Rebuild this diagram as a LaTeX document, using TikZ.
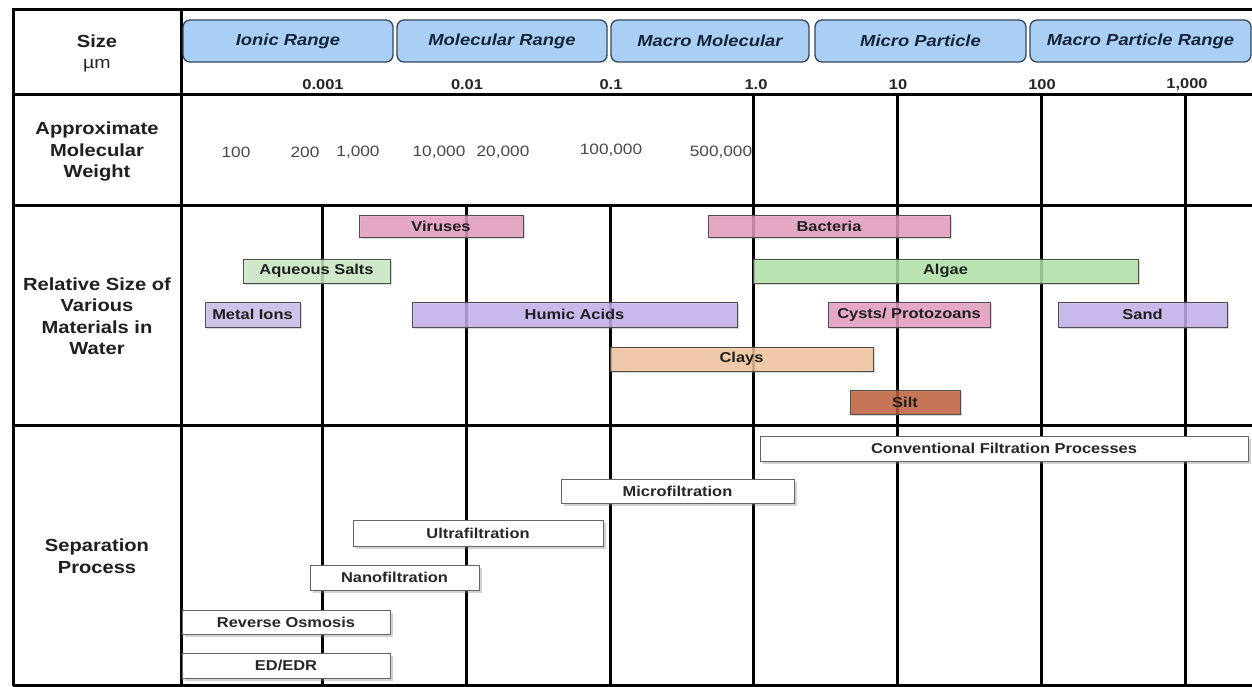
\documentclass[tikz,border=0pt]{standalone}
\usepackage{fontspec}
\setmainfont[FakeStretch=1.15]{Liberation Sans}
\usetikzlibrary{shadows}

\definecolor{rangefill}{HTML}{A9CFF4}
\definecolor{rangeedge}{HTML}{34455C}
\definecolor{rangetext}{HTML}{16243A}
\definecolor{pinkbar}{HTML}{E79CC0}
\definecolor{greenlt}{HTML}{CDEDC6}
\definecolor{greenbar}{HTML}{B3E6A9}
\definecolor{lilac}{HTML}{C6B0F0}
\definecolor{lilaclt}{HTML}{CDBDEE}
\definecolor{claybar}{HTML}{F6C69C}
\definecolor{siltbar}{HTML}{C25E37}

\begin{document}
\begin{tikzpicture}[x=1pt,y=-1pt,
  rule/.style={line width=3pt,black},
  head/.style={font=\bfseries\fontsize{17.5}{21.5}\selectfont,align=center,text=black!88},
  rangebox/.style={draw=rangeedge,line width=1.3pt,fill=rangefill,rounded corners=7pt,
    font=\bfseries\itshape\fontsize{16}{19}\selectfont,text=rangetext,inner sep=0pt,
    minimum height=42pt},
  tick/.style={font=\bfseries\fontsize{14.3}{17}\selectfont,text=black!85},
  mw/.style={font=\fontsize{15}{18}\selectfont,text=black!72},
  bar/.style={draw=black!70,line width=0.9pt,fill opacity=0.8,text opacity=1,
    font=\bfseries\fontsize{14.3}{17}\selectfont,text=black!88,inner sep=0pt,
    drop shadow={shadow xshift=2pt,shadow yshift=-2pt,opacity=0.3}},
  proc/.style={draw=black!60,line width=1pt,fill=white,
    font=\bfseries\fontsize{14.3}{17}\selectfont,text=black!85,inner sep=0pt,
    drop shadow={shadow xshift=2.5pt,shadow yshift=-2.5pt,opacity=0.35}}]

\useasboundingbox (0,0) rectangle (1252,687);
\fill[white] (0,0) rectangle (1252,687);

% outer frame, column divider and row rules
\draw[rule] (12,10) -- (1252,10);
\draw[rule] (13,10) -- (13,686);
\draw[rule] (181,10) -- (181,686);
\draw[rule] (13,95) -- (1252,95);
\draw[rule] (13,205) -- (1252,205);
\draw[rule] (13,425) -- (1252,425);
\draw[rule] (13,685) -- (1252,685);

% decade lines of the size scale
\foreach \gx in {753,897,1041,1185} \draw[rule] (\gx,95) -- (\gx,685);
\foreach \gx in {322,466,610} \draw[rule] (\gx,205) -- (\gx,685);

% row headings
\node[head] (hsize) at (97,41) {Size};
\node[font=\fontsize{17}{20}\selectfont,text=black!85] (hunit) at (97,66) {µm};
\node[head] (hmw) at (97,152) {Approximate\\Molecular\\Weight};
\node[head] (hrel) at (97,316) {Relative Size of\\Various\\Materials in\\Water};
\node[head] (hsep) at (97,556) {Separation\\Process};

% size ranges
\node[rangebox,minimum width=210pt] (ionic) at (288,41) {Ionic Range};
\node[rangebox,minimum width=210pt] (molec) at (502,41) {Molecular Range};
\node[rangebox,minimum width=198pt] (macmol) at (710,41) {Macro Molecular};
\node[rangebox,minimum width=211pt] (micpar) at (920.5,41) {Micro Particle};
\node[rangebox,minimum width=221pt] (macpar) at (1140.5,41) {Macro Particle Range};

% size scale in micrometres
\node[tick] (t1) at (323,85) {0.001};
\node[tick] (t2) at (467,85) {0.01};
\node[tick] (t3) at (611,85) {0.1};
\node[tick] (t4) at (756,85) {1.0};
\node[tick] (t5) at (898,85) {10};
\node[tick] (t6) at (1042,85) {100};
\node[tick] (t7) at (1187,85) {1,000};

% approximate molecular weights
\node[mw] (w1) at (236,152) {100};
\node[mw] (w2) at (305,152) {200};
\node[mw] (w3) at (358,152) {1,000};
\node[mw] (w4) at (439,152) {10,000};
\node[mw] (w5) at (503,152) {20,000};
\node[mw] (w6) at (611,150) {100,000};
\node[mw] (w7) at (721,152) {500,000};

% materials found in water
\node[bar,fill=pinkbar,minimum width=164pt,minimum height=22pt] (virus) at (441,226) {Viruses};
\node[bar,fill=pinkbar,minimum width=242pt,minimum height=22pt] (bact) at (829,226) {Bacteria};
\node[bar,fill=greenlt,minimum width=147pt,minimum height=24pt] (salts) at (316.5,271) {Aqueous Salts};
\node[bar,fill=greenbar,minimum width=385pt,minimum height=24pt] (algae) at (945.5,271) {Algae};
\node[bar,fill=lilaclt,minimum width=95pt,minimum height=25pt] (metal) at (252.5,314.5) {Metal Ions};
\node[bar,fill=lilac,minimum width=325pt,minimum height=25pt] (humic) at (574.5,314.5) {Humic Acids};
\node[bar,fill=pinkbar,minimum width=162pt,minimum height=25pt] (cysts) at (909,314.5) {Cysts/ Protozoans};
\node[bar,fill=lilac,minimum width=169pt,minimum height=25pt] (sand) at (1142.5,314.5) {Sand};
\node[bar,fill=claybar,minimum width=263pt,minimum height=24pt] (clays) at (741.5,359) {Clays};
\node[bar,fill=siltbar,minimum width=110pt,minimum height=24pt] (silt) at (905,402) {Silt};

% separation processes
\node[proc,minimum width=488pt,minimum height=25pt] (conv) at (1004,448.5) {Conventional Filtration Processes};
\node[proc,minimum width=233pt,minimum height=24pt] (mf) at (677.5,491) {Microfiltration};
\node[proc,minimum width=250pt,minimum height=26pt] (uf) at (478,533) {Ultrafiltration};
\node[proc,minimum width=169pt,minimum height=25pt] (nf) at (394.5,577.5) {Nanofiltration};
\node[proc,minimum width=208pt,minimum height=24pt] (ro) at (286,622) {Reverse Osmosis};
\node[proc,minimum width=208pt,minimum height=25pt] (ed) at (286,665.5) {ED/EDR};

\end{tikzpicture}
\end{document}
